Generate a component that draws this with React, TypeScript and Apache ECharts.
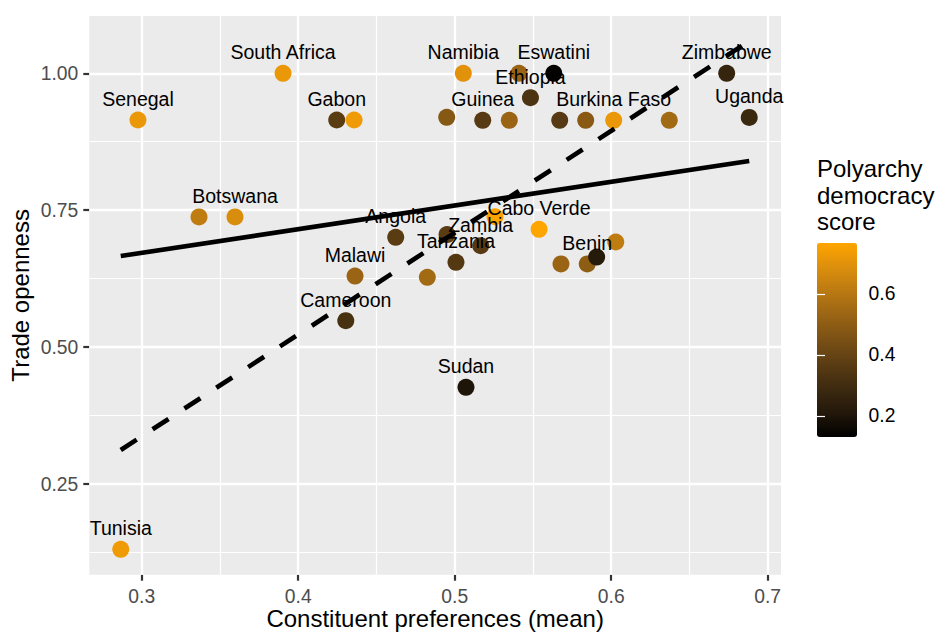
import React, { useEffect, useRef } from "react";
import * as echarts from "echarts";

// ---------- data ----------
const countryLabels: string[] = [
  "Senegal", "South Africa", "Gabon", "", "", "Botswana", "Angola", "Malawi", "Cameroon", "Tunisia",
  "Sudan", "", "Namibia", "", "Eswatini", "Ethiopia", "", "Guinea", "", "",
  "", "Burkina Faso", "", "Zimbabwe", "Uganda", "", "Cabo Verde", "", "Zambia", "Tanzania",
  "", "Benin", "", "",
];
const prefMean: number[] = [
  0.2976, 0.3903, 0.4246, 0.4357, 0.3366, 0.3596, 0.4623, 0.4363, 0.4304, 0.2866,
  0.5072, 0.4825, 0.5055, 0.5411, 0.5633, 0.5484, 0.4949, 0.5179, 0.5349, 0.5671,
  0.5837, 0.6016, 0.6371, 0.6738, 0.6882, 0.5257, 0.5539, 0.4951, 0.5166, 0.5008,
  0.5679, 0.5847, 0.5907, 0.6029,
];
const tradeOpenness: number[] = [
  0.9147, 1.0, 0.9147, 0.9147, 0.7376, 0.7376, 0.7005, 0.6298, 0.5482, 0.1308,
  0.4266, 0.6275, 1.0, 1.0, 1.0, 0.9554, 0.9196, 0.9142, 0.9142, 0.9142,
  0.9142, 0.9142, 0.9142, 1.0, 0.9193, 0.7381, 0.7151, 0.7055, 0.6852, 0.6549,
  0.6518, 0.6518, 0.6645, 0.6919,
];
const polyarchy: number[] = [
  0.72, 0.72, 0.37, 0.73, 0.62, 0.68, 0.37, 0.53, 0.32, 0.73,
  0.2, 0.55, 0.7, 0.53, 0.14, 0.33, 0.48, 0.36, 0.53, 0.36,
  0.49, 0.72, 0.55, 0.27, 0.28, 0.76, 0.767, 0.37, 0.36, 0.35,
  0.53, 0.5, 0.22, 0.62,
];
const solidFitX: number[] = [0.2866, 0.6882];
const solidFitY: number[] = [0.6664, 0.8398];
const dashedFitX: number[] = [0.2866, 0.6882];
const dashedFitY: number[] = [0.3121, 1.0588];

const xTicks: number[] = [0.3, 0.4, 0.5, 0.6, 0.7];
const xMinor: number[] = [0.35, 0.45, 0.55, 0.65];
const yTicks: number[] = [0.25, 0.5, 0.75, 1.0];
const yMinor: number[] = [0.125, 0.375, 0.625, 0.875];
const legendTicks: number[] = [0.2, 0.4, 0.6];

const X_MIN = 0.2665;
const X_MAX = 0.7085;
const Y_MIN = 0.0844;
const Y_MAX = 1.1046;
const LEG_MIN = 0.131;
const LEG_MAX = 0.767;

// black -> orange (Lab interpolation)
const GRADIENT = [
  "#000000", "#23180A", "#3D2A10", "#5A3C13", "#795014",
  "#996414", "#BA7912", "#DC8F0C", "#FFA500",
];

const FONT = "'Liberation Sans', Arial, Helvetica, sans-serif";

export default function App() {
  const ref = useRef<HTMLDivElement>(null);

  useEffect(() => {
    if (!ref.current) return;
    const chart = echarts.init(ref.current, null, { renderer: "svg" });

    const pointData = prefMean.map((x, i) => ({
      value: [x, tradeOpenness[i], polyarchy[i]],
      name: countryLabels[i],
      label: { show: countryLabels[i] !== "" },
    }));

    const vLines = (vals: number[]) =>
      vals.map((v) => ({ coords: [[v, Y_MIN], [v, Y_MAX]] }));
    const hLines = (vals: number[]) =>
      vals.map((v) => ({ coords: [[X_MIN, v], [X_MAX, v]] }));

    const option: any = {
      animation: false,
      backgroundColor: "#FFFFFF",
      textStyle: { fontFamily: FONT },
      grid: [
        {
          left: 89.3, top: 16, width: 691.7, height: 558.7,
          show: true, backgroundColor: "#EBEBEB", borderWidth: 0,
          containLabel: false, outerBoundsMode: "none",
        },
        {
          left: 817, top: 243, width: 40, height: 194, show: false,
          containLabel: false, outerBoundsMode: "none",
        },
      ],
      xAxis: [
        {
          type: "value", gridIndex: 0, min: X_MIN, max: X_MAX,
          axisLine: { show: false },
          axisTick: {
            show: true, customValues: xTicks, length: 6,
            lineStyle: { color: "#333333", width: 2.2 },
          },
          axisLabel: {
            customValues: xTicks, formatter: (v: number) => v.toFixed(1),
            color: "#4D4D4D", fontSize: 19.3, lineHeight: 17, margin: 12.8, fontFamily: FONT,
          },
          splitLine: { show: false },
          name: "Constituent preferences (mean)",
          nameLocation: "middle", nameGap: 33, nameMoveOverlap: false,
          nameTextStyle: { fontSize: 24, lineHeight: 22, color: "#000000", fontFamily: FONT },
        },
        { type: "value", gridIndex: 1, show: false, min: 0, max: 1 },
      ],
      yAxis: [
        {
          type: "value", gridIndex: 0, min: Y_MIN, max: Y_MAX,
          axisLine: { show: false },
          axisTick: {
            show: true, customValues: yTicks, length: 6,
            lineStyle: { color: "#333333", width: 2.2 },
          },
          axisLabel: {
            customValues: yTicks, formatter: (v: number) => v.toFixed(2),
            color: "#4D4D4D", fontSize: 19.3, margin: 11, fontFamily: FONT,
          },
          splitLine: { show: false },
          name: "Trade openness",
          nameLocation: "middle", nameGap: 57, nameMoveOverlap: false,
          nameTextStyle: { fontSize: 24, color: "#000000", fontFamily: FONT },
        },
        {
          type: "value", gridIndex: 1, position: "right", min: LEG_MIN, max: LEG_MAX, z: 10,
          axisLine: { show: false },
          axisTick: {
            show: true, inside: true, customValues: legendTicks, length: 8,
            lineStyle: { color: "#FFFFFF", width: 1.2 },
          },
          axisLabel: {
            customValues: legendTicks, formatter: (v: number) => v.toFixed(1),
            color: "#000000", fontSize: 19.3, margin: 11.6, fontFamily: FONT,
          },
          splitLine: { show: false },
        },
        {
          type: "value", gridIndex: 1, position: "left", min: LEG_MIN, max: LEG_MAX, z: 10,
          axisLine: { show: false },
          axisTick: {
            show: true, inside: true, customValues: legendTicks, length: 8,
            lineStyle: { color: "#FFFFFF", width: 1.2 },
          },
          axisLabel: { show: false },
          splitLine: { show: false },
        },
      ],
      visualMap: {
        type: "continuous", seriesIndex: 2, dimension: 2,
        min: LEG_MIN, max: LEG_MAX, calculable: false, hoverLink: false,
        inRange: { color: GRADIENT },
        left: 817, top: 243, itemWidth: 40, itemHeight: 194, padding: 0,
        show: true,
      },
      graphic: [
        {
          type: "text", left: 817, top: 155,
          style: {
            text: "Polyarchy\ndemocracy\nscore",
            fontSize: 24, fontFamily: FONT, fill: "#000000", lineHeight: 26.7,
          },
        },
      ],
      series: [
        {
          type: "lines", coordinateSystem: "cartesian2d", xAxisIndex: 0, yAxisIndex: 0,
          z: 1, silent: true,
          lineStyle: { color: "#FFFFFF", width: 1.2, opacity: 1 },
          data: [...vLines(xMinor), ...hLines(yMinor)],
        },
        {
          type: "lines", coordinateSystem: "cartesian2d", xAxisIndex: 0, yAxisIndex: 0,
          z: 1, silent: true,
          lineStyle: { color: "#FFFFFF", width: 2.37, opacity: 1 },
          data: [...vLines(xTicks), ...hLines(yTicks)],
        },
        {
          type: "scatter", xAxisIndex: 0, yAxisIndex: 0, z: 2,
          symbol: "circle", symbolSize: 17,
          itemStyle: { opacity: 1 },
          data: pointData,
          label: {
            position: "inside", offset: [0, -21], formatter: "{b}",
            color: "#000000", fontSize: 19.5, fontFamily: FONT,
          },
        },
        {
          type: "line", xAxisIndex: 0, yAxisIndex: 0, z: 3,
          symbol: "none", showSymbol: false,
          lineStyle: { color: "#000000", width: 4.7, cap: "butt" },
          data: solidFitX.map((x, i) => [x, solidFitY[i]]),
        },
        {
          type: "line", xAxisIndex: 0, yAxisIndex: 0, z: 3,
          symbol: "none", showSymbol: false,
          lineStyle: { color: "#000000", width: 4.7, type: [19, 19], cap: "butt" },
          data: dashedFitX.map((x, i) => [x, dashedFitY[i]]),
        },
      ],
    };

    chart.setOption(option);
    return () => chart.dispose();
  }, []);

  return (
    <div
      ref={ref}
      style={{ position: "fixed", left: 0, top: 0, width: 939, height: 632, background: "#FFFFFF" }}
    />
  );
}
